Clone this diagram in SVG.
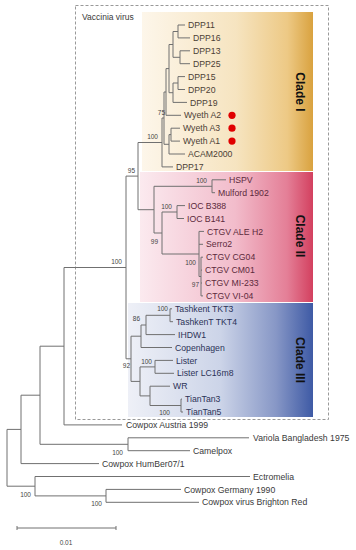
<svg xmlns="http://www.w3.org/2000/svg" width="356" height="550" viewBox="0 0 356 550">
<defs>
<linearGradient id="gI" x1="0" y1="0" x2="1" y2="0">
<stop offset="0" stop-color="#fdf6ea"/><stop offset="0.55" stop-color="#f6e4c0"/><stop offset="0.85" stop-color="#edc985"/><stop offset="1" stop-color="#d9a23f"/>
</linearGradient>
<linearGradient id="gII" x1="0" y1="0" x2="1" y2="0">
<stop offset="0" stop-color="#fbeaef"/><stop offset="0.55" stop-color="#f2bccb"/><stop offset="0.85" stop-color="#e47f97"/><stop offset="1" stop-color="#d3405f"/>
</linearGradient>
<linearGradient id="gIII" x1="0" y1="0" x2="1" y2="0">
<stop offset="0" stop-color="#eef0f7"/><stop offset="0.5" stop-color="#ccd4e8"/><stop offset="0.8" stop-color="#8797c6"/><stop offset="1" stop-color="#3e5aa5"/>
</linearGradient>
</defs>
<style>
.t{font-family:"Liberation Sans",Arial,sans-serif;font-size:8.7px;fill:#3a3a3a}
.c1 .t{fill:#4b4035}
.c2 .t{fill:#5c2a3c}
.c3 .t{fill:#2c3358}
.b{font-family:"Liberation Sans",Arial,sans-serif;font-size:6.5px;fill:#444;text-anchor:end}
.cl{font-family:"Liberation Sans",Arial,sans-serif;font-size:12px;font-weight:bold;fill:#111;text-anchor:middle;dominant-baseline:central}
.e{fill:none;stroke:#707070;stroke-width:1}
.dot{fill:#e00000}
</style>
<rect width="356" height="550" fill="#fff"/>
<g id="vaccinia">
<rect x="75.5" y="5.5" width="253" height="414" fill="none" stroke="#999" stroke-width="1" stroke-dasharray="3,2"/>
<text class="t" x="82" y="20" style="font-size:8.5px">Vaccinia virus</text>
</g>
<g id="cladeI-box"><rect x="142" y="12" width="171" height="159" fill="url(#gI)"/><text class="cl" transform="translate(300,92) rotate(90)">Clade I</text></g>
<g id="cladeII-box"><rect x="140" y="172" width="173" height="130" fill="url(#gII)"/><text class="cl" transform="translate(300,236) rotate(90)">Clade II</text></g>
<g id="cladeIII-box"><rect x="128" y="303" width="185" height="114" fill="url(#gIII)"/><text class="cl" transform="translate(300,360) rotate(90)">Clade III</text></g>
<g id="connectors" class="e">
<path class="e" d="M7,429.4V486.2M7,429.4H21M7,486.2H35"/>
<path class="e" d="M21,395.2V463.6M21,395.2H40M21,463.6H99"/>
<path class="e" d="M40,346.2V444.3M40,346.2H64M40,444.3H128"/>
<path class="e" d="M128,437.8V450.7M128,437.8H249M128,450.7H190"/>
<path class="e" d="M64,267.5V424.9M64,267.5H126M64,424.9H122"/>
<path class="e" d="M126,176.1V358.8M126,176.1H138M126,358.8H131"/>
<path class="e" d="M138,142.5V209.7M138,142.5H162M138,209.7H154"/>
<path class="e" d="M162,118V166.9M162,118H164M162,166.9H173"/>
<path class="e" d="M164,92V144.3M164,92H166M164,144.3H169"/>
<path class="e" d="M166,68.6V115.3M166,68.6H169M166,115.3H181"/>
<path class="e" d="M169,44.5V92.7M169,44.5H173M169,92.7H173"/>
<path class="e" d="M173,31.5V57.3M173,31.5H178M173,57.3H180"/>
<path class="e" d="M178,25V37.9M178,25H185M178,37.9H190"/>
<path class="e" d="M180,50.8V63.7M180,50.8H190M180,63.7H190"/>
<path class="e" d="M173,83V102.4M173,83H178M173,102.4H187"/>
<path class="e" d="M178,76.6V89.5M178,76.6H185M178,89.5H185"/>
<path class="e" d="M169,134.6V154M169,134.6H171M169,154H185"/>
<path class="e" d="M171,128.2V141.1M171,128.2H180M171,141.1H180"/>
<path class="e" d="M154,186.3V233M154,186.3H212M154,233H162"/>
<path class="e" d="M212,179.8V192.7M212,179.8H226M212,192.7H215"/>
<path class="e" d="M162,212V254M162,212H177M162,254H199"/>
<path class="e" d="M177,205.6V218.5M177,205.6H185M177,218.5H184"/>
<path class="e" d="M199,231.4V276.5M199,231.4H204M199,244.3H203M199,276.5H201"/>
<path class="e" d="M201,257.2V295.9M201,257.2H203M201,270.1H202M201,283H202M201,295.9H203"/>
<path class="e" d="M131,336.2V381.4M131,336.2H141M131,381.4H140"/>
<path class="e" d="M141,325V347.5M141,325H146M141,347.5H172"/>
<path class="e" d="M146,315.3V334.6M146,315.3H170M146,334.6H175"/>
<path class="e" d="M170,308.8V321.7M170,308.8H172M170,321.7H173"/>
<path class="e" d="M140,366.9V395.9M140,366.9H155M140,395.9H150"/>
<path class="e" d="M155,360.4V373.3M155,360.4H173M155,373.3H174"/>
<path class="e" d="M150,386.2V405.5M150,386.2H170M150,405.5H181"/>
<path class="e" d="M181,399.1V412M181,399.1H182M181,412H183"/>
<path class="e" d="M35,476.5V495.9M35,476.5H250M35,495.9H106"/>
<path class="e" d="M106,489.4V502.3M106,489.4H181M106,502.3H199"/>
</g>
<g id="bootstrap">
<text class="b" x="165" y="115">75</text>
<text class="b" x="158" y="139">100</text>
<text class="b" x="135" y="173">95</text>
<text class="b" x="207" y="183">100</text>
<text class="b" x="172" y="209">100</text>
<text class="b" x="158" y="244">99</text>
<text class="b" x="122" y="264">100</text>
<text class="b" x="196" y="265">100</text>
<text class="b" x="199" y="287">97</text>
<text class="b" x="168" y="311">100</text>
<text class="b" x="140" y="321">86</text>
<text class="b" x="152" y="364">100</text>
<text class="b" x="130" y="368">92</text>
<text class="b" x="170" y="415">100</text>
<text class="b" x="123" y="455">100</text>
<text class="b" x="31" y="497">100</text>
<text class="b" x="102" y="506">100</text>
</g>
<g class="c1">
<g id="DPP11"><text class="t" x="188" y="28.1">DPP11</text></g>
<g id="DPP16"><text class="t" x="193" y="41">DPP16</text></g>
<g id="DPP13"><text class="t" x="193" y="53.9">DPP13</text></g>
<g id="DPP25"><text class="t" x="193" y="66.8">DPP25</text></g>
<g id="DPP15"><text class="t" x="188" y="79.7">DPP15</text></g>
<g id="DPP20"><text class="t" x="188" y="92.6">DPP20</text></g>
<g id="DPP19"><text class="t" x="190" y="105.5">DPP19</text></g>
<g id="WyethA2"><text class="t" x="184" y="118.4">Wyeth A2</text><circle class="dot" cx="232" cy="115.3" r="3.6"/></g>
<g id="WyethA3"><text class="t" x="183" y="131.3">Wyeth A3</text><circle class="dot" cx="232" cy="128.2" r="3.6"/></g>
<g id="WyethA1"><text class="t" x="183" y="144.2">Wyeth A1</text><circle class="dot" cx="232" cy="141.1" r="3.6"/></g>
<g id="ACAM2000"><text class="t" x="188" y="157.1">ACAM2000</text></g>
<g id="DPP17"><text class="t" x="176" y="170">DPP17</text></g>
</g>
<g class="c2">
<g id="HSPV"><text class="t" x="229" y="182.9">HSPV</text></g>
<g id="Mulford1902"><text class="t" x="218" y="195.8">Mulford 1902</text></g>
<g id="IOCB388"><text class="t" x="188" y="208.7">IOC B388</text></g>
<g id="IOCB141"><text class="t" x="187" y="221.6">IOC B141</text></g>
<g id="CTGVALEH2"><text class="t" x="207" y="234.5">CTGV ALE H2</text></g>
<g id="Serro2"><text class="t" x="206" y="247.4">Serro2</text></g>
<g id="CTGVCG04"><text class="t" x="206" y="260.3">CTGV CG04</text></g>
<g id="CTGVCM01"><text class="t" x="205" y="273.2">CTGV CM01</text></g>
<g id="CTGVMI233"><text class="t" x="205" y="286.1">CTGV MI-233</text></g>
<g id="CTGVVI04"><text class="t" x="206" y="299">CTGV VI-04</text></g>
</g>
<g class="c3">
<g id="TashkentTKT3"><text class="t" x="175" y="311.9">Tashkent TKT3</text></g>
<g id="TashkentTKT4"><text class="t" x="176" y="324.8">TashkenT TKT4</text></g>
<g id="IHDW1"><text class="t" x="178" y="337.7">IHDW1</text></g>
<g id="Copenhagen"><text class="t" x="175" y="350.6">Copenhagen</text></g>
<g id="Lister"><text class="t" x="176" y="363.5">Lister</text></g>
<g id="ListerLC16m8"><text class="t" x="177" y="376.4">Lister LC16m8</text></g>
<g id="WR"><text class="t" x="173" y="389.3">WR</text></g>
<g id="TianTan3"><text class="t" x="185" y="402.2">TianTan3</text></g>
<g id="TianTan5"><text class="t" x="186" y="415.1">TianTan5</text></g>
</g>
<g id="CowpoxAustria1999"><text class="t" x="126" y="428">Cowpox Austria 1999</text></g>
<g id="VariolaBangladesh1975"><text class="t" x="253" y="440.9">Variola Bangladesh 1975</text></g>
<g id="Camelpox"><text class="t" x="193" y="453.8">Camelpox</text></g>
<g id="CowpoxHumBer07"><text class="t" x="102" y="466.7">Cowpox HumBer07/1</text></g>
<g id="Ectromelia"><text class="t" x="253" y="479.6">Ectromelia</text></g>
<g id="CowpoxGermany1990"><text class="t" x="184" y="492.5">Cowpox Germany 1990</text></g>
<g id="CowpoxBrightonRed"><text class="t" x="202" y="505.4">Cowpox virus Brighton Red</text></g>
<g id="scalebar">
<path class="e" d="M17,528H116M17,526V530M116,526V530"/>
<text class="b" x="66" y="545" style="text-anchor:middle">0.01</text>
</g>
</svg>
